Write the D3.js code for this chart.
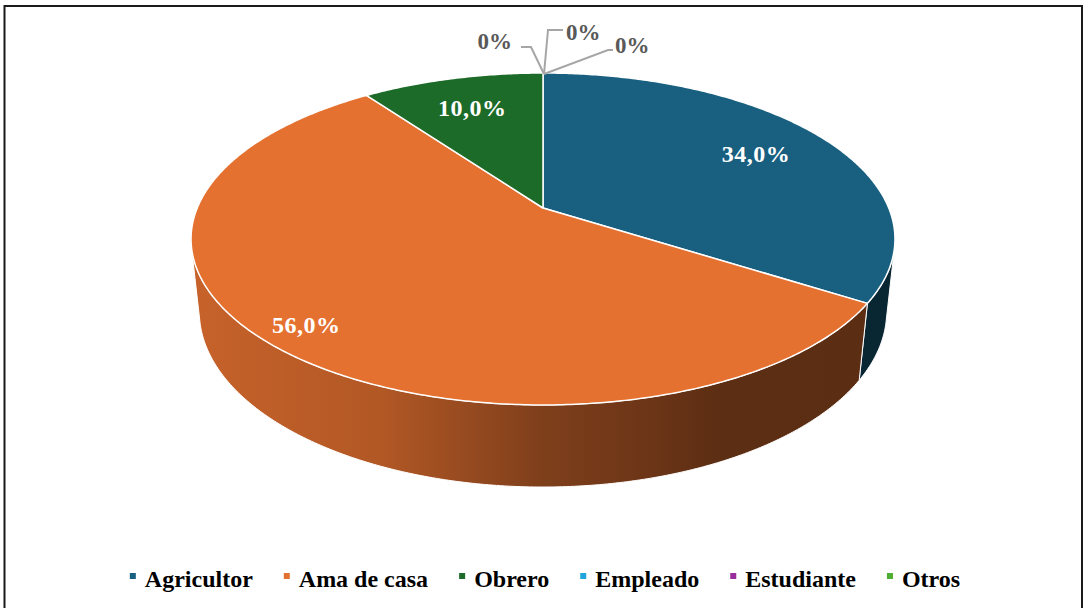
<!DOCTYPE html>
<html>
<head>
<meta charset="utf-8">
<script src="https://cdn.jsdelivr.net/npm/d3@7"></script>
<style>
  body { margin: 0; background: #fff; }
  svg { display: block; }
</style>
</head>
<body>
<svg id="chart"></svg>
<script>
// data
const categories = ["Agricultor", "Ama de casa", "Obrero", "Empleado", "Estudiante", "Otros"];
const values = [34.0, 56.0, 10.0, 0, 0, 0];

// styles
const colors = ["#185f80", "#e57130", "#1d6b28", "#1ea6dc", "#9b2c9b", "#4cae33"];
const labelRadius = [0.75, 0.88, 0.75];
// side shading: [x position, darker() amount]
const shade = [[190, 0.4], [380, 0.7], [540, 1.65], [650, 2.1], [720, 2.55], [900, 2.6]];
// leaders for the 0% labels, offsets from the top point of the pie
const zeroLeaders = [
  { pts: [[1, 1], [-12, -26], [-22, -26]], tx: -31, ty: -24, anchor: "end" },
  { pts: [[1, 1], [5, -43], [20, -43]], tx: 23, ty: -33, anchor: "start" },
  { pts: [[1, 1], [65, -23], [70, -23]], tx: 72, ty: -20, anchor: "start" }
];

const W = 1083, H = 608;
const font = "'Liberation Serif', 'Times New Roman', serif";

const svg = d3.select("#chart").attr("width", W).attr("height", H);

svg.append("rect")
  .attr("x", 4.5).attr("y", 6)
  .attr("width", 1077.5).attr("height", 640)
  .attr("fill", "none")
  .attr("stroke", "#1a1a1a")
  .attr("stroke-width", 2);

// simple perspective camera for the 3D pie
const cam = { cx: 543, cy: 208, f: 1641, D: 4.746, phi: Math.asin(0.4633), h: 0.239 };
function project(a, r, y) {
  const x = r * Math.sin(a), z = -r * Math.cos(a);
  const yp = y * Math.cos(cam.phi) - z * Math.sin(cam.phi);
  const zp = y * Math.sin(cam.phi) + z * Math.cos(cam.phi);
  const w = cam.D - zp;
  return [cam.cx + cam.f * x / w, cam.cy - cam.f * yp / w];
}

const pie = d3.pie().value(d => d).sort(null);
const arcs = pie(values);

const visLimit = Math.acos(-1 / (cam.D * Math.cos(cam.phi)));
const vis0 = visLimit, vis1 = 2 * Math.PI - visLimit;

const line = d3.line();
function arcPoints(a0, a1, r, y) {
  const n = Math.max(2, Math.ceil((a1 - a0) / 0.01));
  return d3.range(n + 1).map(i => project(a0 + (a1 - a0) * i / n, r, y));
}

// gradients for the sides
const defs = svg.append("defs");
colors.forEach((c, i) => {
  const g = defs.append("linearGradient")
    .attr("id", "side" + i)
    .attr("gradientUnits", "userSpaceOnUse")
    .attr("x1", shade[0][0]).attr("x2", shade[shade.length - 1][0])
    .attr("y1", 0).attr("y2", 0);
  shade.forEach(s => {
    g.append("stop")
      .attr("offset", (s[0] - shade[0][0]) / (shade[shade.length - 1][0] - shade[0][0]))
      .attr("stop-color", d3.color(c).darker(s[1]).formatHex());
  });
});

const chart = svg.append("g");

// sides
arcs.forEach((d, i) => {
  const s = Math.max(d.startAngle, vis0), e = Math.min(d.endAngle, vis1);
  if (e <= s) return;
  const pts = arcPoints(s, e, 1, 0).concat(arcPoints(s, e, 1, -cam.h).reverse());
  chart.append("path")
    .attr("d", line(pts) + "Z")
    .attr("fill", `url(#side${i})`)
    .attr("stroke", "#fff")
    .attr("stroke-width", 1);
});

// top faces
arcs.forEach((d, i) => {
  if (d.endAngle - d.startAngle <= 0) return;
  const pts = [project(0, 0, 0)].concat(arcPoints(d.startAngle, d.endAngle, 1, 0));
  chart.append("path")
    .attr("d", line(pts) + "Z")
    .attr("fill", colors[i])
    .attr("stroke", "#fff")
    .attr("stroke-width", 1.5)
    .attr("stroke-linejoin", "round");
});

// labels inside slices
const fmt = v => v === 0 ? "0%" : v.toFixed(1).replace(".", ",") + "%";
arcs.forEach((d, i) => {
  if (d.value <= 0) return;
  const p = project((d.startAngle + d.endAngle) / 2, labelRadius[i], 0);
  chart.append("text")
    .attr("x", p[0]).attr("y", p[1])
    .attr("dy", "0.35em")
    .attr("text-anchor", "middle")
    .attr("fill", "#fff")
    .style("font-family", font)
    .style("font-weight", "bold")
    .style("font-size", "24px")
    .style("letter-spacing", "0.5px")
    .text(fmt(d.value));
});

// 0% labels with leaders
const apex = project(0, 1, 0);
arcs.filter(d => d.value <= 0).forEach((d, k) => {
  const L = zeroLeaders[k];
  chart.append("path")
    .attr("d", line(L.pts.map(p => [apex[0] + p[0], apex[1] + p[1]])))
    .attr("fill", "none")
    .attr("stroke", "#a6a6a6")
    .attr("stroke-width", 2);
  chart.append("text")
    .attr("x", apex[0] + L.tx).attr("y", apex[1] + L.ty)
    .attr("text-anchor", L.anchor)
    .attr("fill", "#595959")
    .style("font-family", font)
    .style("font-weight", "bold")
    .style("font-size", "23px")
    .text(fmt(d.value));
});

// legend
const legend = svg.append("g");
let cursor = 0;
categories.forEach((c, i) => {
  const item = legend.append("g").attr("transform", `translate(${cursor},0)`);
  item.append("rect")
    .attr("x", 0).attr("y", -14)
    .attr("width", 6).attr("height", 6)
    .attr("fill", colors[i]);
  const t = item.append("text")
    .attr("x", 15).attr("y", 0)
    .attr("fill", "#000")
    .style("font-family", font)
    .style("font-weight", "bold")
    .style("font-size", "24px")
    .text(c);
  cursor += 15 + t.node().getComputedTextLength() + 31;
});
const legendWidth = cursor - 31;
legend.attr("transform", `translate(${545 - legendWidth / 2},587)`);
</script>
</body>
</html>
